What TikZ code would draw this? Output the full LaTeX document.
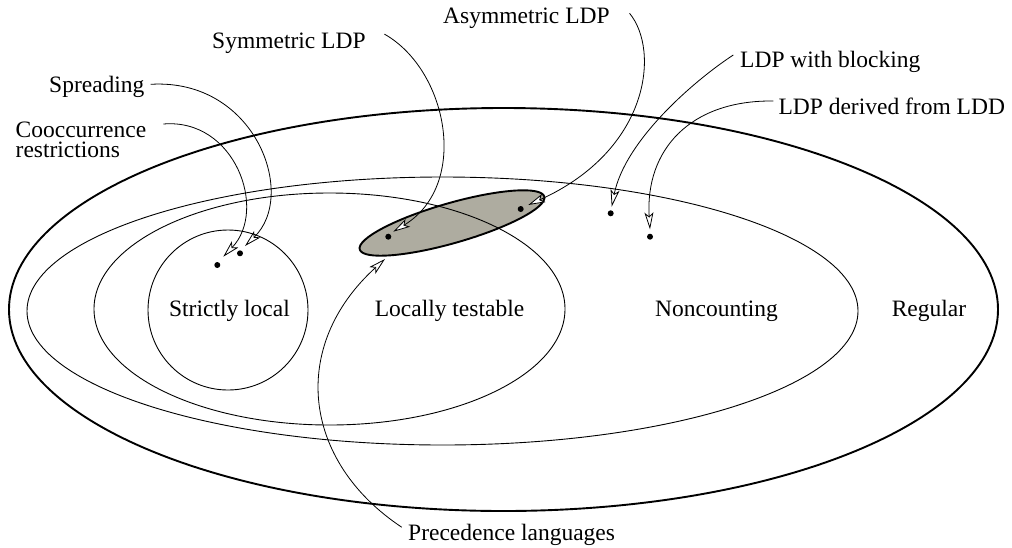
\documentclass[tikz,border=0pt]{standalone}
\usepackage{fontspec}
\setmainfont{Liberation Serif}
\newfontfamily\tms{Liberation Serif}
\usetikzlibrary{arrows.meta,calc}
\definecolor{lgray}{RGB}{174,172,160}
\begin{document}
\begin{tikzpicture}[x=1pt,y=-1pt,
  lbl/.style={font=\tms\fontsize{23.5}{20.5}\selectfont, inner sep=0pt, anchor=base west},
  reg/.style={font=\tms\fontsize{23.5}{20.5}\selectfont, inner sep=0pt, anchor=base},
  dot/.style={circle, fill=black, inner sep=0pt, minimum size=6pt},
  thinline/.style={line width=0.9pt},
  thickline/.style={line width=1.9pt},
  conn/.style={line width=0.8pt, -{Stealth[length=17pt,width=9pt,inset=4pt,fill=white]}}]
\useasboundingbox (0,0) rectangle (1012,547);

% shaded set
\fill[lgray, rotate around={16:(452,223)}] (452,223) ellipse [x radius=96, y radius=20];

% nested classes
\draw[thickline] (503.5,309.5) ellipse [x radius=494.5, y radius=201.5];
\draw[thinline] (442.5,311) ellipse [x radius=415.5, y radius=134];
\draw[thinline] (329.5,309) ellipse [x radius=235.5, y radius=116];
\draw[thinline] (228,310) circle [radius=80];
\draw[thickline, rotate around={16:(452,223)}] (452,223) ellipse [x radius=96, y radius=20];

% region labels
\node[reg] (sl) at (229.5,316.7) {Strictly local};
\node[reg] (lt) at (449.5,316.7) {Locally testable};
\node[reg] (nc) at (716.5,316.7) {Noncounting};
\node[reg] (rg) at (929,316.7) {Regular};

% outside labels
\node[lbl] (asym) at (443,23) {Asymmetric LDP};
\node[lbl] (sym) at (212,48.8) {Symmetric LDP};
\node[lbl] (spr) at (49,92.3) {Spreading};
\node[lbl] (co1) at (15.5,137) {Cooccurrence};
\node[lbl] (co2) at (15.5,157.5) {restrictions};
\node[lbl] (blk) at (740,67.3) {LDP with blocking};
\node[lbl] (der) at (778.3,114) {LDP derived from LDD};
\node[lbl] (prec) at (408,540.5) {Precedence languages};

% dots
\node[dot] (d1) at (217.3,265) {};
\node[dot] (d2) at (240,253.3) {};
\node[dot] (d3) at (388.3,236.7) {};
\node[dot] (d4) at (520.7,209) {};
\node[dot] (d5) at (610.7,213.3) {};
\node[dot] (d6) at (650,236.7) {};

% arrow tips
\coordinate (t1) at ($(d1)+(6,-8.3)$);
\coordinate (t2) at ($(d2)+(5,-7.3)$);
\coordinate (t3) at ($(d3)+(5,-5)$);
\coordinate (t4) at ($(d4)+(7.6,-4)$);
\coordinate (t5) at ($(d5)+(1,-6.6)$);
\coordinate (t6) at ($(d6)+(0,-7.3)$);
\coordinate (t7) at (385,259);

% connectors
\draw[conn] ([shift={(17,-13)}]co1.base east) .. controls (235,118) and (268,210) .. (t1);
\draw[conn] ([shift={(6,-8)}]spr.base east) .. controls (255,78) and (298,195) .. (t2);
\draw[conn] ([shift={(18.6,-14.7)}]sym.base east) .. controls (448,70) and (470,185) .. (t3);
\draw[conn] ([shift={(19.7,-9.7)}]asym.base east) .. controls (660,50) and (650,150) .. (t4);
\draw[conn] ([shift={(-6.7,-12.3)}]blk.base west) .. controls (695,80) and (625,140) .. (t5);
\draw[conn] ([shift={(-5,-13)}]der.base west) .. controls (690,100) and (645,150) .. (t6);
\draw[conn] ([shift={(-6.3,-13.3)}]prec.base west) .. controls (302,461) and (289,346) .. (t7);
\end{tikzpicture}
\end{document}
